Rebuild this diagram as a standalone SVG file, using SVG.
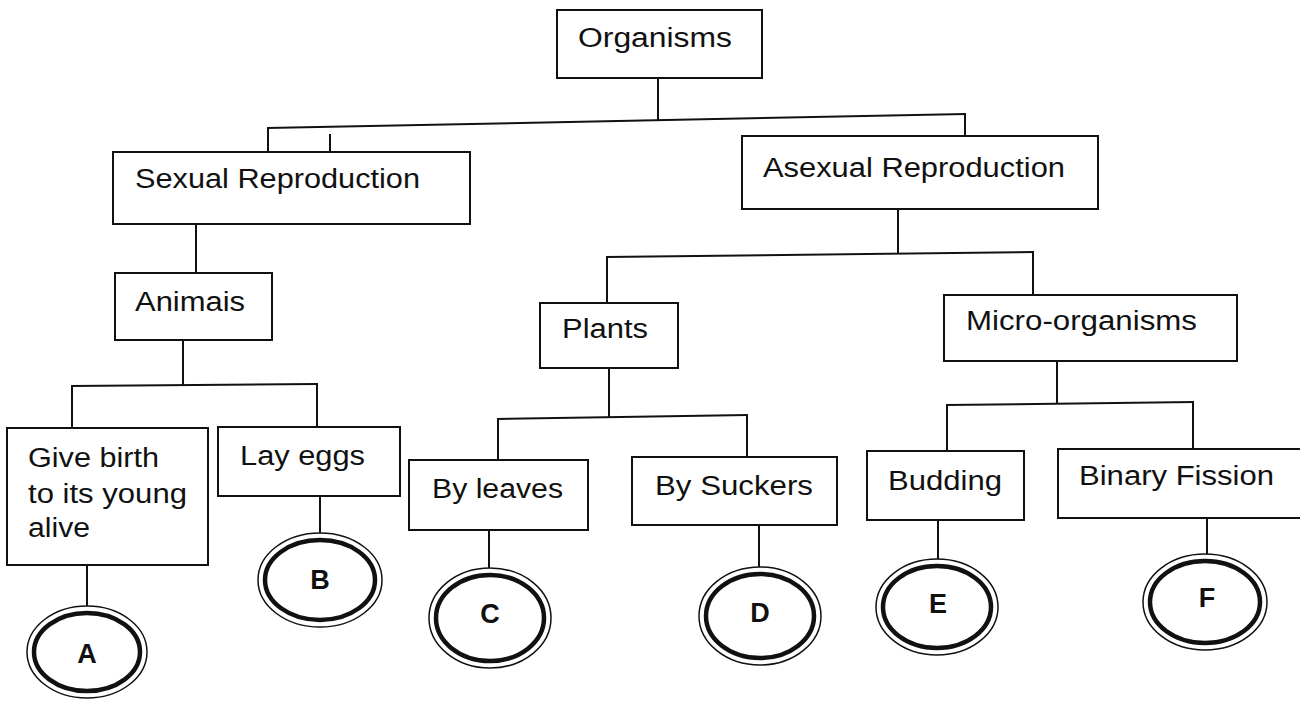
<svg xmlns="http://www.w3.org/2000/svg" width="1300" height="702" viewBox="0 0 1300 702">
<style>
  .box { fill: #ffffff; stroke: #111111; stroke-width: 2; }
  .lbl { font-family: "Liberation Sans", Arial, sans-serif; font-size: 27px; fill: #111111; }
  .ring-o { fill: #ffffff; stroke: #111111; stroke-width: 1.5; }
  .ring-i { fill: none; stroke: #111111; stroke-width: 4.5; }
  .let { font-family: "Liberation Sans", Arial, sans-serif; font-size: 27px; font-weight: bold; fill: #111111; text-anchor: middle; }
  .conn line { stroke: #111111; stroke-width: 2; }
</style>
<rect width="1300" height="702" fill="#ffffff"/>
<g id="connectors" class="conn">
  <line x1="658" y1="78" x2="658" y2="121"/>
  <line x1="267" y1="128" x2="966" y2="114"/>
  <line x1="268" y1="128" x2="268" y2="152"/>
  <line x1="965" y1="114" x2="965" y2="135"/>
  <line x1="330" y1="134" x2="330" y2="152"/>
  <line x1="196" y1="224" x2="196" y2="273"/>
  <line x1="183" y1="340" x2="183" y2="385"/>
  <line x1="71" y1="386" x2="318" y2="384"/>
  <line x1="72" y1="386" x2="72" y2="428"/>
  <line x1="317" y1="384" x2="317" y2="427"/>
  <line x1="87" y1="565" x2="87" y2="606"/>
  <line x1="320" y1="496" x2="320" y2="533"/>
  <line x1="898" y1="209" x2="898" y2="254"/>
  <line x1="606" y1="257" x2="1034" y2="252"/>
  <line x1="607" y1="257" x2="607" y2="303"/>
  <line x1="1033" y1="252" x2="1033" y2="295"/>
  <line x1="609" y1="368" x2="609" y2="417"/>
  <line x1="497" y1="419" x2="748" y2="415"/>
  <line x1="498" y1="419" x2="498" y2="460"/>
  <line x1="747" y1="415" x2="747" y2="457"/>
  <line x1="489" y1="530" x2="489" y2="569"/>
  <line x1="759" y1="525" x2="759" y2="567"/>
  <line x1="1057" y1="361" x2="1057" y2="404"/>
  <line x1="946" y1="405" x2="1194" y2="402"/>
  <line x1="947" y1="405" x2="947" y2="451"/>
  <line x1="1193" y1="402" x2="1193" y2="449"/>
  <line x1="938" y1="520" x2="938" y2="560"/>
  <line x1="1207" y1="518" x2="1207" y2="554"/>
</g>
<g id="organisms">
  <rect class="box" x="557" y="10" width="205" height="68"/>
  <text class="lbl" x="578" y="47" textLength="154" lengthAdjust="spacingAndGlyphs">Organisms</text>
</g>
<g id="sexual">
  <rect class="box" x="113" y="152" width="357" height="72"/>
  <text class="lbl" x="135" y="188" textLength="285" lengthAdjust="spacingAndGlyphs">Sexual Reproduction</text>
</g>
<g id="asexual">
  <rect class="box" x="742" y="136" width="356" height="73"/>
  <text class="lbl" x="763" y="177" textLength="302" lengthAdjust="spacingAndGlyphs">Asexual Reproduction</text>
</g>
<g id="animals">
  <rect class="box" x="115" y="273" width="157" height="67"/>
  <text class="lbl" x="135" y="311" textLength="110" lengthAdjust="spacingAndGlyphs">Animais</text>
</g>
<g id="plants">
  <rect class="box" x="540" y="303" width="138" height="65"/>
  <text class="lbl" x="562" y="338" textLength="86" lengthAdjust="spacingAndGlyphs">Plants</text>
</g>
<g id="micro">
  <rect class="box" x="944" y="295" width="293" height="66"/>
  <text class="lbl" x="966" y="330" textLength="231" lengthAdjust="spacingAndGlyphs">Micro-organisms</text>
</g>
<g id="give-birth">
  <rect class="box" x="7" y="428" width="201" height="137"/>
  <text class="lbl" x="28" y="467" textLength="131" lengthAdjust="spacingAndGlyphs">Give birth</text>
  <text class="lbl" x="28" y="503" textLength="159" lengthAdjust="spacingAndGlyphs">to its young</text>
  <text class="lbl" x="28" y="537" textLength="62" lengthAdjust="spacingAndGlyphs">alive</text>
</g>
<g id="lay-eggs">
  <rect class="box" x="218" y="427" width="182" height="69"/>
  <text class="lbl" x="240" y="465" textLength="125" lengthAdjust="spacingAndGlyphs">Lay eggs</text>
</g>
<g id="by-leaves">
  <rect class="box" x="409" y="460" width="179" height="70"/>
  <text class="lbl" x="432" y="498" textLength="131" lengthAdjust="spacingAndGlyphs">By leaves</text>
</g>
<g id="by-suckers">
  <rect class="box" x="632" y="457" width="205" height="68"/>
  <text class="lbl" x="655" y="495" textLength="158" lengthAdjust="spacingAndGlyphs">By Suckers</text>
</g>
<g id="budding">
  <rect class="box" x="867" y="451" width="157" height="69"/>
  <text class="lbl" x="888" y="490" textLength="114" lengthAdjust="spacingAndGlyphs">Budding</text>
</g>
<g id="binary-fission">
  <rect class="box" x="1058" y="449" width="262" height="69"/>
  <text class="lbl" x="1079" y="485" textLength="195" lengthAdjust="spacingAndGlyphs">Binary Fission</text>
</g>
<g id="circle-a">
  <ellipse class="ring-o" cx="87" cy="652" rx="60" ry="46"/>
  <ellipse class="ring-i" cx="87" cy="652" rx="53" ry="39"/>
  <text class="let" x="87" y="663">A</text>
</g>
<g id="circle-b">
  <ellipse class="ring-o" cx="320" cy="580" rx="62" ry="47"/>
  <ellipse class="ring-i" cx="320" cy="580" rx="55" ry="40"/>
  <text class="let" x="320" y="589">B</text>
</g>
<g id="circle-c">
  <ellipse class="ring-o" cx="490" cy="618" rx="61" ry="50"/>
  <ellipse class="ring-i" cx="490" cy="618" rx="54" ry="43"/>
  <text class="let" x="490" y="623">C</text>
</g>
<g id="circle-d">
  <ellipse class="ring-o" cx="760" cy="616" rx="61" ry="49"/>
  <ellipse class="ring-i" cx="760" cy="616" rx="54" ry="42"/>
  <text class="let" x="760" y="622">D</text>
</g>
<g id="circle-e">
  <ellipse class="ring-o" cx="937" cy="607" rx="61" ry="48"/>
  <ellipse class="ring-i" cx="937" cy="607" rx="54" ry="41"/>
  <text class="let" x="938" y="613">E</text>
</g>
<g id="circle-f">
  <ellipse class="ring-o" cx="1205" cy="602" rx="62" ry="48"/>
  <ellipse class="ring-i" cx="1205" cy="602" rx="55" ry="41"/>
  <text class="let" x="1207" y="607">F</text>
</g>
</svg>
